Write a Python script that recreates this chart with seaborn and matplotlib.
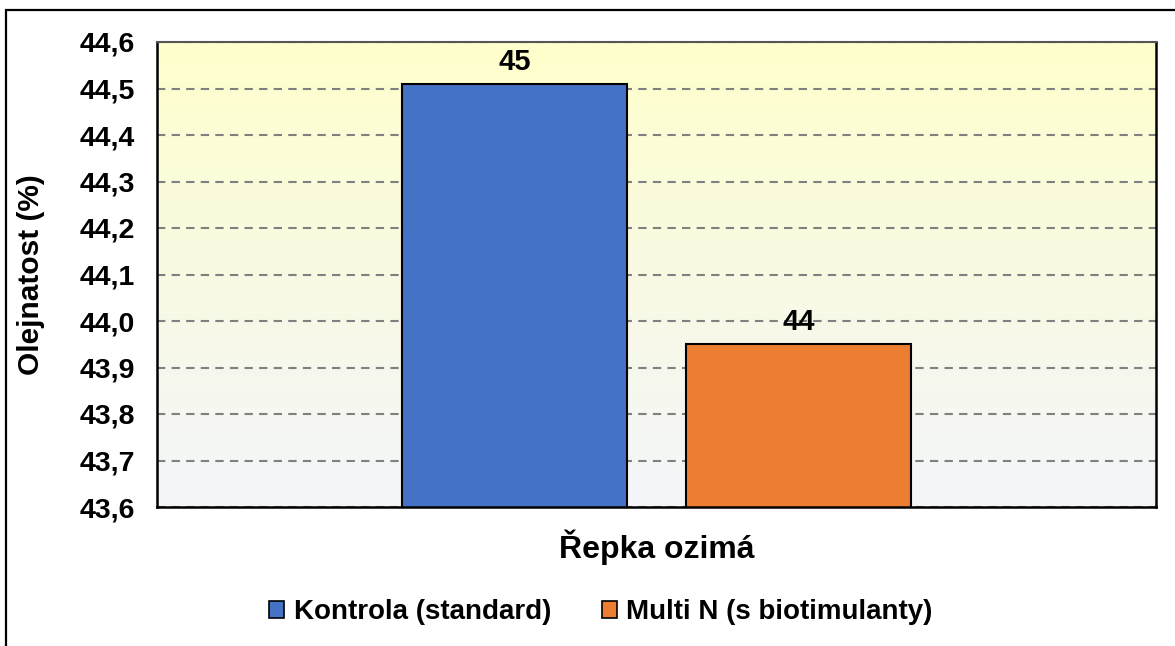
import numpy as np
import pandas as pd
import matplotlib
matplotlib.use("Agg")
import matplotlib.pyplot as plt
from matplotlib.patches import Rectangle
from matplotlib.colors import to_rgb
import seaborn as sns

categories = ["Řepka ozimá"]
series = ["Kontrola (standard)", "Multi N (s biotimulanty)"]
values = [44.51, 43.95]
colors = ["#4472C4", "#ED7D31"]
yticks = [43.6, 43.7, 43.8, 43.9, 44.0, 44.1, 44.2, 44.3, 44.4, 44.5, 44.6]

df = pd.DataFrame({"plodina": categories * len(series), "varianta": series, "olejnatost": values})

sns.set_theme(style="white")
plt.rcParams["font.family"] = ["Liberation Sans", "DejaVu Sans"]
plt.rcParams["font.weight"] = "bold"
plt.rcParams["text.color"] = "black"

fig = plt.figure(figsize=(11.75, 6.46), dpi=100)
ax = fig.add_axes([157 / 1175, 1 - 507 / 646, (1156 - 157) / 1175, (507 - 42) / 646])

# gradient background of plot area
top = np.array(to_rgb("#FFFFCC"))
bot = np.array(to_rgb("#F3F5FA"))
t = np.linspace(0, 1, 256)[:, None]
grad = (top * (1 - t) + bot * t)[:, None, :]
ax.imshow(grad, extent=[0, 1, 0, 1], transform=ax.transAxes, aspect="auto", zorder=0)

sns.barplot(data=df, x="plodina", y="olejnatost", hue="varianta", palette=colors,
            saturation=1, width=0.568, gap=0.208, edgecolor="black", linewidth=1.5,
            errorbar=None, ax=ax, zorder=2, legend=True)

ax.set_xlim(-0.5, 0.5)
ax.set_ylim(43.6, 44.6)
ax.set_yticks(yticks)
ax.set_yticklabels([f"{v:.1f}".replace(".", ",") for v in yticks])
ax.yaxis.grid(True, linestyle=(0, (4, 3)), color="#808080", linewidth=1.5, zorder=1)
ax.set_axisbelow(True)

for c in ax.containers:
    ax.bar_label(c, labels=[f"{v:.0f}" for v in c.datavalues], padding=6,
                 fontsize=21, fontweight="bold", color="black")

ax.set_ylabel("Olejnatost (%)", fontsize=21.5, fontweight="bold", color="black", labelpad=25)
ax.set_xlabel("")
ax.set_xticks([0])
ax.set_xticklabels(categories, fontsize=23, fontweight="bold", color="black")
ax.set_xticks([-0.5, 0.5], minor=True)
ax.tick_params(axis="x", which="major", length=0, pad=16)
ax.tick_params(axis="x", which="minor", length=8, width=1.5, color="black", direction="out")
ax.tick_params(axis="y", length=7, width=1.5, color="black", direction="out", labelsize=20.5, pad=9)
for lab in ax.get_yticklabels():
    lab.set_fontweight("bold")
    lab.set_color("black")

for s in ["left", "bottom", "right"]:
    ax.spines[s].set_visible(True)
    ax.spines[s].set_color("black")
    ax.spines[s].set_linewidth(1.8)
ax.spines["top"].set_visible(True)
ax.spines["top"].set_color("#555555")
ax.spines["top"].set_linewidth(1.5)

handles, labels = ax.get_legend_handles_labels()
ax.get_legend().remove()
leg = fig.legend(handles, labels, loc="center", bbox_to_anchor=(601 / 1175, 1 - 612 / 646), ncol=2,
                 frameon=False, handlelength=0.55, handleheight=0.55, labelcolor="black",
                 handletextpad=0.35, columnspacing=1.8, prop={"weight": "bold", "size": 20})
for h in leg.legend_handles:
    h.set_edgecolor("black")
    h.set_linewidth(1.2)

fig.patches.append(Rectangle((6 / 1175, -0.05), 1.2, 1 - 10 / 646 + 0.05, transform=fig.transFigure,
                             fill=False, edgecolor="black", linewidth=1.6, zorder=10))

fig.savefig("out.png", dpi=100, facecolor="white")
